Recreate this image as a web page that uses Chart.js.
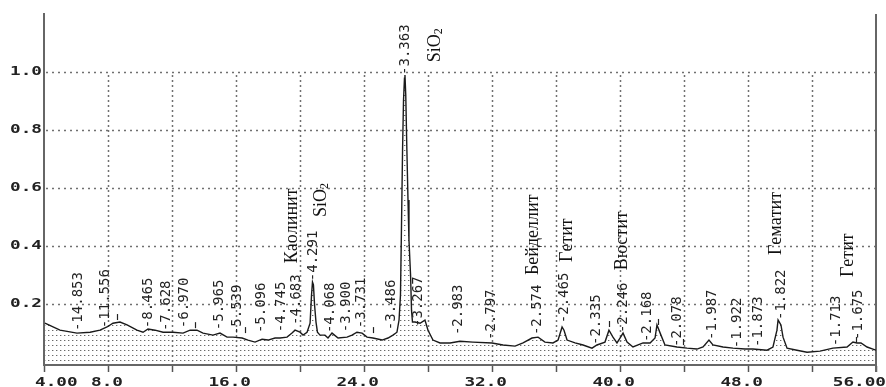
<!DOCTYPE html>
<html>
<head>
<meta charset="utf-8">
<script src="https://cdn.jsdelivr.net/npm/chart.js@4"></script>
<style>
  html, body { margin: 0; padding: 0; background: #fff; }
  canvas { display: block; }
</style>
</head>
<body>
<canvas id="xrd" width="886" height="387"></canvas>
<script>
// diffractogram, 2-theta (deg) vs relative intensity
const twoTheta = [
  4.06, 5.0, 6.06, 6.88, 7.5, 7.94, 8.31, 8.75, 9.19, 9.81,
  10.19, 10.5, 10.94, 11.44, 12.06, 12.69, 13.13, 13.56, 13.94, 14.56,
  15.0, 15.44, 15.81, 16.38, 16.75, 17.19, 17.63, 18.0, 18.44, 18.75,
  19.19, 19.5, 19.69, 20.0, 20.19, 20.44, 20.63, 20.72, 20.78, 20.84,
  20.91, 21.0, 21.09, 21.25, 21.56, 21.75, 22.0, 22.38, 22.94, 23.25,
  23.56, 23.88, 24.19, 24.56, 25.13, 25.5, 25.81, 26.06, 26.19, 26.28,
  26.34, 26.41, 26.47, 26.53, 26.56, 26.61, 26.68, 26.75, 26.81, 26.91,
  26.97, 27.03, 27.19, 27.5, 27.81, 28.0, 28.31, 28.75, 29.38, 30.0,
  30.81, 32.0, 32.69, 33.44, 33.94, 34.5, 34.88, 35.31, 35.81, 36.13,
  36.38, 36.5, 36.69, 37.19, 37.69, 38.25, 38.56, 39.06, 39.31, 39.56,
  39.81, 40.0, 40.19, 40.44, 40.81, 41.44, 41.88, 42.19, 42.31, 42.56,
  42.81, 43.56, 44.19, 44.81, 45.19, 45.56, 45.81, 46.44, 47.06, 47.81,
  48.31, 49.19, 49.56, 49.81, 49.88, 50.06, 50.19, 50.44, 51.06, 51.69,
  52.5, 53.31, 54.19, 54.56, 54.81, 55.06, 55.44, 55.81, 56.0
];
const intensity = [
  0.134, 0.110, 0.100, 0.103, 0.110, 0.121, 0.134, 0.138, 0.128, 0.110,
  0.103, 0.114, 0.110, 0.103, 0.103, 0.100, 0.110, 0.110, 0.100, 0.093,
  0.100, 0.086, 0.086, 0.083, 0.076, 0.069, 0.079, 0.076, 0.083, 0.083,
  0.086, 0.100, 0.110, 0.103, 0.093, 0.103, 0.134, 0.231, 0.276, 0.266,
  0.197, 0.138, 0.103, 0.093, 0.093, 0.083, 0.100, 0.083, 0.086, 0.093,
  0.103, 0.100, 0.086, 0.083, 0.076, 0.083, 0.093, 0.103, 0.145, 0.231,
  0.455, 0.731, 0.903, 0.979, 0.990, 0.921, 0.731, 0.559, 0.421, 0.300,
  0.179, 0.138, 0.138, 0.134, 0.145, 0.110, 0.076, 0.066, 0.066, 0.072,
  0.069, 0.066, 0.059, 0.055, 0.066, 0.083, 0.086, 0.069, 0.066, 0.076,
  0.121, 0.110, 0.076, 0.066, 0.059, 0.048, 0.059, 0.069, 0.110, 0.086,
  0.066, 0.083, 0.100, 0.069, 0.052, 0.066, 0.066, 0.083, 0.128, 0.093,
  0.059, 0.052, 0.048, 0.045, 0.052, 0.076, 0.059, 0.052, 0.048, 0.045,
  0.045, 0.041, 0.052, 0.110, 0.145, 0.128, 0.086, 0.048, 0.041, 0.034,
  0.038, 0.048, 0.052, 0.069, 0.066, 0.066, 0.052, 0.045, 0.041
];

const xTicks = [4, 8, 12, 16, 20, 24, 28, 32, 36, 40, 44, 48, 52, 56];
const xTickLabels = ['4.00', '8.0', '', '16.0', '', '24.0', '', '32.0', '', '40.0', '', '48.0', '', '56.00'];
const yTicks = [0.2, 0.4, 0.6, 0.8, 1.0];
const yTickLabels = ['0.2', '0.4', '0.6', '0.8', '1.0'];

// d-spacings written over the peaks (angstrom), where they sit
const peakD = [14.853, 11.556, 8.465, 7.628, 6.970, 5.965, 5.539, 5.096, 4.745, 4.683,
  4.291, 4.068, 3.900, 3.731, 3.486, 3.363, 3.267, 2.983, 2.797, 2.574,
  2.465, 2.335, 2.246, 2.168, 2.078, 1.987, 1.922, 1.873, 1.822, 1.713, 1.675];
const peakX = [6.13, 7.81, 10.5, 11.63, 12.75, 14.94, 16.06, 17.56, 18.81, 19.75,
  20.81, 21.88, 22.88, 23.81, 25.69, 26.56, 27.38, 29.88, 31.94, 34.81,
  36.5, 38.5, 40.19, 41.69, 43.56, 45.75, 47.31, 48.63, 50.06, 53.5, 54.88];
const peakY = [0.107, 0.117, 0.117, 0.107, 0.117, 0.110, 0.093, 0.100, 0.103, 0.128,
  0.279, 0.100, 0.103, 0.117, 0.110, 0.990, 0.121, 0.093, 0.076, 0.093,
  0.134, 0.059, 0.100, 0.069, 0.052, 0.076, 0.048, 0.052, 0.145, 0.055, 0.076];

// peaks marked without a d value
const markX = [8.56, 13.44, 16.56, 24.56, 39.31, 42.38, 43.94, 54.75];
const markY = [0.145, 0.117, 0.100, 0.100, 0.121, 0.128, 0.059, 0.066];

// mineral phases
const phaseNames = ['Каолинит', 'SiO2', 'SiO2', 'Бейделлит', 'Гетит', 'Вюстит', 'Гематит', 'Гетит'];
const phaseX = [19.5, 21.31, 28.44, 34.56, 36.69, 40.13, 49.75, 54.25];
const phaseY = [0.341, 0.5, 1.034, 0.3, 0.345, 0.317, 0.369, 0.293];

const canvas = document.getElementById('xrd');

// dotted fill under the curve
const pc = document.createElement('canvas');
pc.width = 4;
pc.height = 5;
const pctx = pc.getContext('2d');
pctx.fillStyle = '#6a6a6a';
pctx.fillRect(0, 0, 1, 1);
pctx.fillStyle = '#c8c8c8';
pctx.fillRect(1, 0, 1, 1);
const dots = canvas.getContext('2d').createPattern(pc, 'repeat');

// wide bold mono text like the old plotter font
function wideText(ctx, text, x, y, align) {
  ctx.save();
  ctx.font = 'bold 13px "DejaVu Sans Mono"';
  const k = 1.36;
  const w = ctx.measureText(text).width * k;
  const left = align === 'right' ? x - w : x;
  ctx.translate(left, y);
  ctx.scale(k, 1);
  ctx.textAlign = 'left';
  ctx.textBaseline = 'alphabetic';
  ctx.fillText(text, 0, 0);
  ctx.restore();
}

const gridPlugin = {
  id: 'dottedGrid',
  beforeDatasetsDraw(chart) {
    const { ctx, chartArea: a, scales: { x, y } } = chart;
    ctx.save();
    ctx.strokeStyle = '#707070';
    ctx.lineWidth = 1.5;
    ctx.setLineDash([2, 4]);
    yTicks.forEach(v => {
      const py = Math.round(y.getPixelForValue(v)) + 0.5;
      ctx.beginPath();
      ctx.moveTo(a.left + 2, py);
      ctx.lineTo(a.right, py);
      ctx.stroke();
    });
    ctx.setLineDash([2, 3]);
    const top = y.getPixelForValue(yTicks[yTicks.length - 1]);
    xTicks.slice(1, -1).forEach(v => {
      const px = Math.round(x.getPixelForValue(v)) + 0.5;
      ctx.beginPath();
      ctx.moveTo(px, top + 3);
      ctx.lineTo(px, a.bottom);
      ctx.stroke();
    });
    ctx.setLineDash([]);
    // right frame line
    ctx.strokeStyle = '#666';
    ctx.lineWidth = 2;
    ctx.beginPath();
    ctx.moveTo(a.right, a.top);
    ctx.lineTo(a.right, a.bottom + 7);
    ctx.stroke();
    ctx.restore();
  }
};

const labelPlugin = {
  id: 'labels',
  afterDatasetsDraw(chart) {
    const { ctx, scales: { x, y } } = chart;
    ctx.save();
    ctx.fillStyle = '#222';

    yTicks.forEach((v, i) => {
      wideText(ctx, yTickLabels[i], 42, y.getPixelForValue(v) + 3, 'right');
    });
    xTicks.forEach((v, i) => {
      if (!xTickLabels[i]) return;
      const px = x.getPixelForValue(v);
      if (i === 0) wideText(ctx, xTickLabels[i], px - 9, 386, 'left');
      else wideText(ctx, xTickLabels[i], Math.min(px + 15, chart.width), 386, 'right');
    });

    // d-spacing labels
    ctx.font = '14px "DejaVu Sans Mono"';
    ctx.textAlign = 'left';
    ctx.textBaseline = 'middle';
    peakD.forEach((d, i) => {
      ctx.save();
      ctx.translate(x.getPixelForValue(peakX[i]), y.getPixelForValue(peakY[i]));
      ctx.rotate(-Math.PI / 2);
      ctx.fillText('-' + d.toFixed(3), 0, 0);
      ctx.restore();
    });

    // plain peak marks
    ctx.strokeStyle = '#222';
    ctx.lineWidth = 1.2;
    markX.forEach((v, i) => {
      const px = Math.round(x.getPixelForValue(v)) + 0.5;
      const py = y.getPixelForValue(markY[i]);
      ctx.beginPath();
      ctx.moveTo(px, py);
      ctx.lineTo(px, py - 6);
      ctx.stroke();
    });

    // phase names, digits as subscripts
    ctx.fillStyle = '#111';
    phaseNames.forEach((name, i) => {
      ctx.save();
      ctx.translate(x.getPixelForValue(phaseX[i]), y.getPixelForValue(phaseY[i]));
      ctx.rotate(-Math.PI / 2);
      let pos = 0;
      for (const ch of name) {
        const sub = /[0-9]/.test(ch);
        ctx.font = sub ? '12px "Liberation Serif"' : '18px "Liberation Serif"';
        ctx.fillText(ch, pos, sub ? 4 : 0);
        pos += ctx.measureText(ch).width;
      }
      ctx.restore();
    });
    ctx.restore();
  }
};

new Chart(canvas, {
  type: 'line',
  data: {
    datasets: [{
      data: twoTheta.map((t, i) => ({ x: t, y: intensity[i] })),
      borderColor: '#1a1a1a',
      borderWidth: 1.4,
      pointRadius: 0,
      tension: 0,
      fill: 'start',
      backgroundColor: dots
    }]
  },
  options: {
    responsive: false,
    animation: false,
    layout: { padding: { top: 14, right: 10, left: 0, bottom: 0 } },
    plugins: { legend: { display: false }, tooltip: { enabled: false } },
    scales: {
      x: {
        type: 'linear',
        min: 4,
        max: 56,
        afterBuildTicks: s => { s.ticks = xTicks.map(v => ({ value: v })); },
        afterFit: s => { s.height = 22; },
        ticks: { display: false },
        grid: { drawOnChartArea: false, drawTicks: true, tickLength: 7, tickColor: '#555', tickWidth: 1.5 },
        border: { display: true, color: '#666', width: 2 }
      },
      y: {
        min: -0.01,
        max: 1.2,
        afterBuildTicks: s => { s.ticks = yTicks.map(v => ({ value: v })); },
        afterFit: s => { s.width = 44; },
        ticks: { display: false },
        grid: { display: false },
        border: { display: true, color: '#666', width: 2 }
      }
    }
  },
  plugins: [gridPlugin, labelPlugin]
});
</script>
</body>
</html>
